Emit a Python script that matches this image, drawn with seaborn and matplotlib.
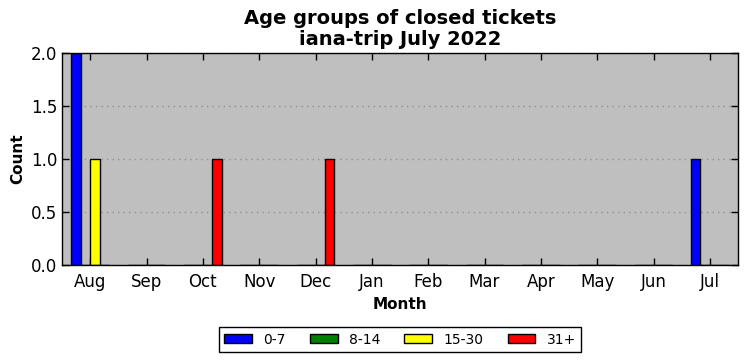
import matplotlib
matplotlib.use("Agg")
import matplotlib.pyplot as plt
import seaborn as sns
import pandas as pd

months = ["Aug", "Sep", "Oct", "Nov", "Dec", "Jan", "Feb", "Mar", "Apr", "May", "Jun", "Jul"]
age_groups = ["0-7", "8-14", "15-30", "31+"]
counts_0_7 = [2, 0, 0, 0, 0, 0, 0, 0, 0, 0, 0, 1]
counts_8_14 = [0, 0, 0, 0, 0, 0, 0, 0, 0, 0, 0, 0]
counts_15_30 = [1, 0, 0, 0, 0, 0, 0, 0, 0, 0, 0, 0]
counts_31_plus = [0, 0, 1, 0, 1, 0, 0, 0, 0, 0, 0, 0]
colors = ["#0000ff", "#008000", "#ffff00", "#ff0000"]

rows = []
for group, vals in zip(age_groups, [counts_0_7, counts_8_14, counts_15_30, counts_31_plus]):
    for m, v in zip(months, vals):
        rows.append({"Month": m, "Group": group, "Count": v})
df = pd.DataFrame(rows)

sns.set_style("ticks")
plt.rcParams["font.family"] = ["DejaVu Sans"]
plt.rcParams.update({"text.color": "black", "axes.labelcolor": "black",
                     "xtick.color": "black", "ytick.color": "black"})

fig = plt.figure(figsize=(7.47, 3.61), dpi=100)
ax = fig.add_axes([0.083, 0.266, 0.905, 0.587])
ax.set_facecolor("#bfbfbf")

sns.barplot(data=df, x="Month", y="Count", hue="Group", order=months,
            hue_order=age_groups, palette=colors, saturation=1, width=0.67,
            edgecolor="black", linewidth=1, ax=ax, legend=True)

ax.set_xlim(-0.5, 11.5)
ax.set_ylim(0, 2.0)
ax.set_yticks([0, 0.5, 1.0, 1.5, 2.0])
ax.set_yticklabels(["0.0", "0.5", "1.0", "1.5", "2.0"])
ax.yaxis.grid(True, linestyle=(0, (1, 3)), color="#909090", linewidth=1)
ax.set_axisbelow(True)
ax.tick_params(axis="both", direction="in", top=True, right=True, labelsize=12,
               length=5, width=1, color="black", labelcolor="black")
ax.tick_params(axis="x", pad=6)
for s in ax.spines.values():
    s.set_color("black")
    s.set_linewidth(1)

ax.set_xlabel("Month", fontsize=11, fontweight="bold", color="black")
ax.set_ylabel("Count", fontsize=11, fontweight="bold", color="black")
ax.set_title("Age groups of closed tickets\niana-trip July 2022", fontsize=14,
             fontweight="bold", linespacing=1.1, color="black")

leg = ax.legend(loc="upper center", bbox_to_anchor=(0.5, -0.26), ncol=4,
                frameon=True, fancybox=False, fontsize=10, handlelength=2.0,
                handleheight=0.6, columnspacing=1.75, borderpad=0.4)
leg.get_frame().set_edgecolor("black")
leg.get_frame().set_linewidth(1)
leg.get_frame().set_alpha(1)
for t in leg.get_texts():
    t.set_color("black")

fig.savefig("out.png", dpi=100)
